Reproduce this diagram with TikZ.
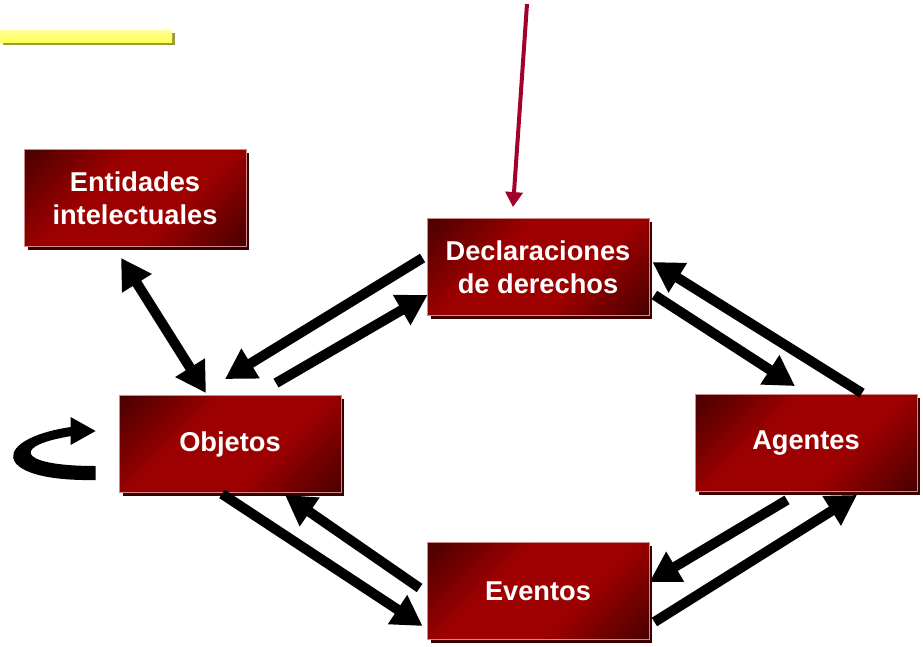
\documentclass[tikz,border=0pt]{standalone}
\usepackage{fontspec}
\setmainfont{Liberation Sans}
\usetikzlibrary{arrows.meta,calc,shadows}

\definecolor{boxdark}{HTML}{4A0000}
\definecolor{boxred}{HTML}{9C0000}
\definecolor{boxedge}{HTML}{D08A8A}
\definecolor{boxshadow}{HTML}{3A0000}
\definecolor{notered}{HTML}{A3002C}
\definecolor{barlight}{HTML}{FFFF99}
\definecolor{barmain}{HTML}{FFFF55}
\definecolor{barshadow}{HTML}{9C9C3A}

\pgfdeclareverticalshading{boxshade}{100bp}{color(0bp)=(boxdark); color(15bp)=(boxdark);
    color(38bp)=(boxred); color(62bp)=(boxred); color(85bp)=(boxdark); color(100bp)=(boxdark)}

\begin{document}
\begin{tikzpicture}[x=0.02cm, y=-0.02cm,
        box/.style={rectangle, minimum width=4.44cm, minimum height=1.94cm,
            shading=boxshade, shading angle=45, draw=boxedge, line width=0.5pt,
            drop shadow={shadow xshift=0.07cm, shadow yshift=-0.07cm, fill=boxshadow, opacity=1},
            text=white, align=center, font=\fontsize{15.5}{19}\selectfont\bfseries},
        link/.style={line width=0.2cm, -{Triangle[length=0.6cm, width=0.66cm]}},
        both/.style={line width=0.2cm, {Triangle[length=0.6cm, width=0.66cm]}-{Triangle[length=0.6cm, width=0.66cm]}},
        note/.style={notered, line width=0.08cm, -{Triangle[length=0.3cm, width=0.34cm]}}
    ]
    \useasboundingbox (0,0) rectangle (923,646);

    % --- barra gialla ---
    \fill[barshadow] (3,33) rectangle (175,45);
    \shade[top color=barlight, bottom color=barmain] (0,30) rectangle (172,42);

    % --- riquadri ---
    \node[box] (ent)   at (135,198) {Entidades\\intelectuales};
    \node[box] (decl)  at (538,267) {Declaraciones\\de derechos};
    \node[box] (obj)   at (230,444) {Objetos};
    \node[box] (agent) at (806,443) {Agentes};
    \node[box] (event) at (538,591) {Eventos};

    % --- freccia rossa ---
    \coordinate (top) at (527,4);
    \draw[note] (top) -- ($(decl.north)+(-25,-11)$);

    % --- frecce ---
    \draw[both] ($(ent.south)+(-14,11)$) -- ($(obj.north)+(-24,-2)$);
    \draw[link] ($(decl.west)+(-4,-9)$) -- ($(obj.north)+(-5,-16)$);
    \draw[link] ($(obj.north)+(46,-12)$) -- ($(decl.west)+(1,28)$);
    \draw[link] ($(decl.east)+(5,28)$) -- ($(agent.north)+(-11,-8)$);
    \draw[link] ($(agent.north)+(56,-1)$) -- ($(decl.east)+(3,-5)$);
    \draw[link] ($(obj.south)+(-8,1)$) -- ($(event.west)+(-4,35)$);
    \draw[link] ($(event.west)+(-7,-3)$) -- ($(obj.south)+(55,2)$);
    \draw[link] ($(agent.south)+(-19,8)$) -- ($(event.east)+(0,-9)$);
    \draw[link] ($(event.east)+(5,31)$) -- ($(agent.south)+(51,3)$);

    % --- anello su Objetos ---
    \fill ($(obj.west)+(-23,36)$) .. controls ($(obj.west)+(-132,38)$) and ($(obj.west)+(-128,-8)$) .. ($(obj.west)+(-40,-18)$)
        -- ($(obj.west)+(-40,-9)$) .. controls ($(obj.west)+(-108,0)$) and ($(obj.west)+(-105,22)$) .. ($(obj.west)+(-23,22)$) -- cycle;
    \fill ($(obj.west)+(-23,-13)$) -- ($(obj.west)+(-48,-27)$) -- ($(obj.west)+(-48,1)$) -- cycle;

\end{tikzpicture}
\end{document}
